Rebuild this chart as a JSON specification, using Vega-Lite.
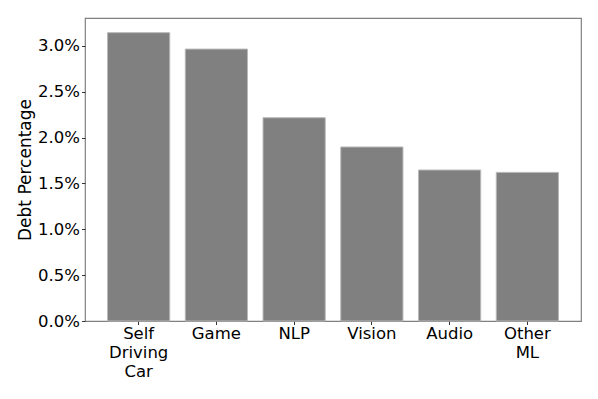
{
  "$schema": "https://vega.github.io/schema/vega-lite/v6.json",
  "width": 496,
  "height": 303,
  "autosize": "none",
  "padding": {"left": 85, "top": 18, "right": 17, "bottom": 78},
  "background": "white",
  "config": {
    "font": "DejaVu Sans",
    "view": {"stroke": "#808080", "strokeWidth": 1.2}
  },
  "data": {
    "values": [
      {"category": "Self Driving Car", "debt": 0.03145},
      {"category": "Game", "debt": 0.02966},
      {"category": "NLP", "debt": 0.02217},
      {"category": "Vision", "debt": 0.01898},
      {"category": "Audio", "debt": 0.01647},
      {"category": "Other ML", "debt": 0.01621}
    ]
  },
  "mark": {"type": "bar", "color": "#808080", "stroke": "#b8b8b8", "strokeWidth": 1},
  "encoding": {
    "x": {
      "field": "category",
      "type": "nominal",
      "sort": null,
      "scale": {"paddingInner": 0.2, "paddingOuter": 0.29},
      "axis": {
        "title": null,
        "labelAngle": 0,
        "labelFontSize": 16.5,
        "labelColor": "black",
        "labelExpr": "split(datum.label, ' ')",
        "labelLineHeight": 19,
        "labelPadding": 1,
        "tickSize": 3.5,
        "tickColor": "#333",
        "domain": false,
        "grid": false
      }
    },
    "y": {
      "field": "debt",
      "type": "quantitative",
      "scale": {"domain": [0, 0.03305], "nice": false},
      "axis": {
        "title": "Debt Percentage",
        "titleFontSize": 17,
        "titleFontWeight": "normal",
        "titleColor": "black",
        "titlePadding": 3,
        "format": ".1%",
        "values": [0, 0.005, 0.01, 0.015, 0.02, 0.025, 0.03],
        "labelFontSize": 16.5,
        "labelColor": "black",
        "labelPadding": 2,
        "tickSize": 3.5,
        "tickColor": "#333",
        "domain": false,
        "grid": false
      }
    }
  }
}
